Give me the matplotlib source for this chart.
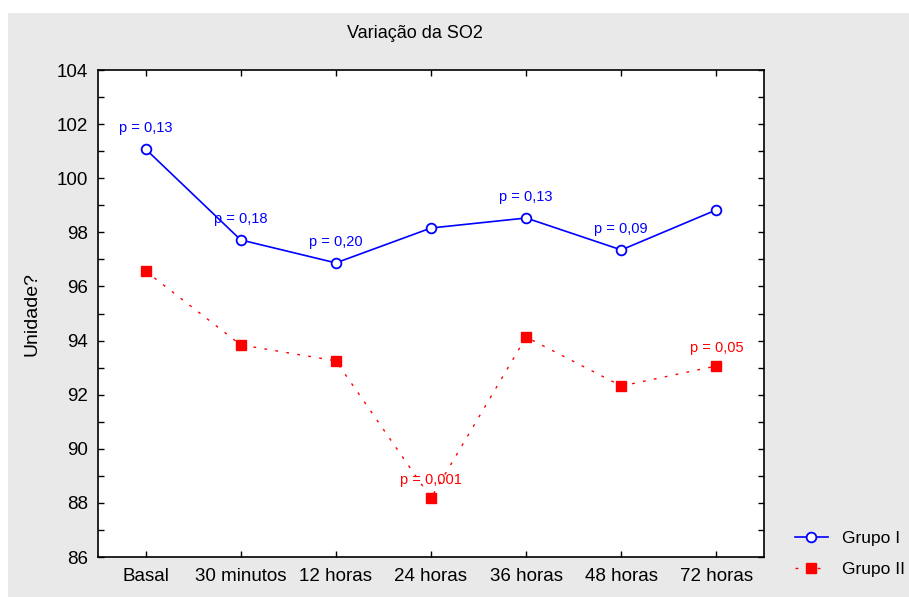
import numpy as np
import matplotlib.pyplot as plt
from matplotlib.patches import Rectangle
from matplotlib.ticker import MultipleLocator

plt.rcParams['font.family'] = ['Liberation Sans', 'DejaVu Sans']

categorias = ['Basal', '30 minutos', '12 horas', '24 horas', '36 horas', '48 horas', '72 horas']
grupo1 = [101.08, 97.72, 96.87, 98.16, 98.53, 97.35, 98.83]
grupo2 = [96.57, 93.84, 93.25, 88.18, 94.13, 92.32, 93.06]

# p-values: (indice, texto)
p_grupo1 = [(0, 'p = 0,13'), (1, 'p = 0,18'), (2, 'p = 0,20'), (4, 'p = 0,13'), (5, 'p = 0,09')]
p_grupo2 = [(3, 'p = 0,001'), (6, 'p = 0,05')]

azul = '#0000ff'
vermelho = '#ff0000'

fig = plt.figure(figsize=(9.09, 5.97), dpi=100)
fig.patch.set_facecolor('white')
fig.patches.append(Rectangle((8 / 909, 0), 1, 1 - 13 / 597, transform=fig.transFigure,
                             facecolor='#e9e9e9', edgecolor='none', zorder=-5))

ax = fig.add_axes([98 / 909, 40 / 597, 666 / 909, 487 / 597])
ax.set_zorder(1)
ax.set_facecolor('white')
x = np.arange(len(categorias))

ax.plot(x, grupo1, color=azul, lw=1.2, marker='o', ms=7, mfc='white', mec=azul, mew=1.3,
        label='Grupo I', zorder=3)
ax.plot(x, grupo2, color=vermelho, lw=1.0, ls=(0, (2, 6)), marker='s', ms=7, mfc=vermelho,
        mec=vermelho, label='Grupo II', zorder=3)

for i, txt in p_grupo1:
    ax.annotate(txt, (x[i], grupo1[i]), xytext=(0, 10), textcoords='offset points',
                ha='center', va='bottom', color=azul, fontsize=10.5)
for i, txt in p_grupo2:
    ax.annotate(txt, (x[i], grupo2[i]), xytext=(0, 8), textcoords='offset points',
                ha='center', va='bottom', color=vermelho, fontsize=10.5)

ax.set_xlim(-0.5, 6.5)
ax.set_ylim(86, 104)
ax.set_xticks(x)
ax.set_xticklabels(categorias)
ax.yaxis.set_major_locator(MultipleLocator(2))
ax.yaxis.set_minor_locator(MultipleLocator(1))
ax.tick_params(axis='both', which='both', direction='in', top=True, right=True, length=4,
               width=1, labelsize=13.5)
ax.tick_params(axis='x', pad=8)
ax.tick_params(axis='y', pad=7)
for s in ax.spines.values():
    s.set_linewidth(1.2)

ax.set_ylabel('Unidade?', fontsize=14, labelpad=12)
fig.text(415 / 909, 1 - 33 / 597, 'Variação da SO2', ha='center', va='center', fontsize=13)

fig.legend(loc='center left', bbox_to_anchor=(779 / 909, 1 - 554 / 597), frameon=False,
           fontsize=12.5, handlelength=1.9, handletextpad=0.8, labelspacing=0.9)

fig.savefig('out.png', dpi=100, facecolor=fig.get_facecolor())
